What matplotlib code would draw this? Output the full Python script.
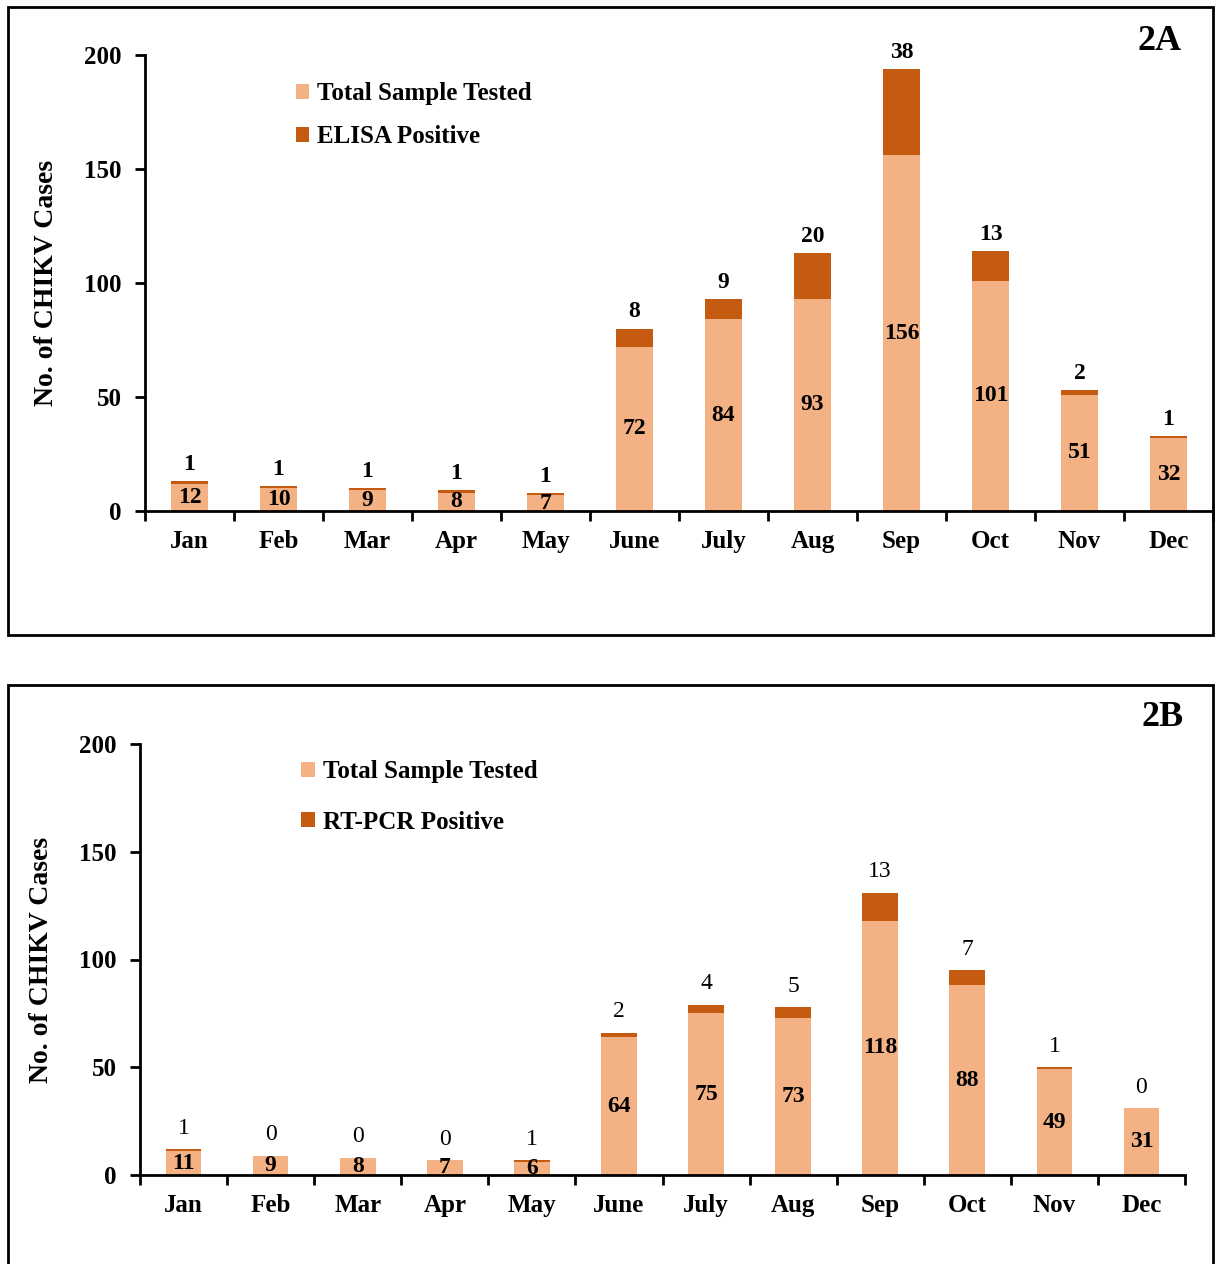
import numpy as np
import matplotlib
matplotlib.use("Agg")
import matplotlib.pyplot as plt
from matplotlib.patches import Rectangle

plt.rcParams['font.family'] = ['Liberation Serif', 'DejaVu Serif']

months = ["Jan", "Feb", "Mar", "Apr", "May", "June", "July", "Aug", "Sep", "Oct", "Nov", "Dec"]

# panel 2A
total_a = [12, 10, 9, 8, 7, 72, 84, 93, 156, 101, 51, 32]
elisa_pos = [1, 1, 1, 1, 1, 8, 9, 20, 38, 13, 2, 1]

# panel 2B
total_b = [11, 9, 8, 7, 6, 64, 75, 73, 118, 88, 49, 31]
pcr_pos = [1, 0, 0, 0, 1, 2, 4, 5, 13, 7, 1, 0]

light = "#F4B183"
dark = "#C55A11"

W, H = 1217, 1264
fig = plt.figure(figsize=(W / 100, H / 100), dpi=100)


def px(x, y, w, h):
    # pixel box (top-left origin) -> figure fraction
    return [x / W, 1 - (y + h) / H, w / W, h / H]


def panel(rect, total, pos, pos_name, tag, tag_xy, leg_xy, leg_space, top_bold, top_off):
    ax = fig.add_axes(rect)
    x = np.arange(len(months))
    ax.bar(x, total, width=0.41, color=light, label="Total Sample Tested")
    ax.bar(x, pos, width=0.41, bottom=total, color=dark, label=pos_name)
    ax.set_xlim(-0.5, 11.5)
    ax.set_ylim(0, 200)
    ax.set_yticks([0, 50, 100, 150, 200])
    ax.set_yticklabels(["0", "50", "100", "150", "200"], fontsize=18, fontweight="bold")
    ax.set_xticks(np.arange(0, 13) - 0.5)
    ax.set_xticklabels([])
    ax.set_xticks(x, minor=True)
    ax.set_xticklabels(months, minor=True, fontsize=18, fontweight="bold")
    ax.tick_params(axis="x", which="minor", length=0, pad=14)
    ax.tick_params(axis="x", which="major", length=7, width=2, direction="out")
    ax.tick_params(axis="y", length=7, width=2, direction="out", pad=10)
    for s in ["top", "right"]:
        ax.spines[s].set_visible(False)
    for s in ["left", "bottom"]:
        ax.spines[s].set_linewidth(2)
    ax.set_ylabel("No. of CHIKV Cases", fontsize=20, fontweight="bold", labelpad=18)

    for i in range(len(months)):
        ax.text(x[i], total[i] / 2, str(total[i]), ha="center", va="center",
                fontsize=17, fontweight="bold")
        ax.annotate(str(pos[i]), (x[i], total[i] + pos[i]), xytext=(0, top_off),
                    textcoords="offset points", ha="center", va="center",
                    fontsize=17, fontweight="bold" if top_bold else "normal")

    ax.legend(loc="upper left", bbox_to_anchor=leg_xy, frameon=False,
              prop={"weight": "bold", "size": 18}, handlelength=0.55, handleheight=0.55,
              handletextpad=0.3, labelspacing=leg_space)
    fig.text(tag_xy[0] / W, 1 - tag_xy[1] / H, tag, fontsize=26, fontweight="bold",
             ha="center", va="center")
    return ax


panel(px(145, 55, 1068, 456), total_a, elisa_pos, "ELISA Positive", "2A",
      (1160, 42), (0.12, 0.99), 0.8, True, 12)
panel(px(140, 744, 1045, 431), total_b, pcr_pos, "RT-PCR Positive", "2B",
      (1163, 718), (0.133, 1.015), 1.1, False, 15)

# panel frames
fig.patches.append(Rectangle((8 / W, 1 - 635 / H), 1205 / W, 628 / H,
                             transform=fig.transFigure, fill=False, lw=2, ec="black"))
fig.patches.append(Rectangle((8 / W, -0.05), 1205 / W, 1 - 685 / H + 0.05,
                             transform=fig.transFigure, fill=False, lw=2, ec="black"))

fig.savefig("out.png", dpi=100, facecolor="white")
